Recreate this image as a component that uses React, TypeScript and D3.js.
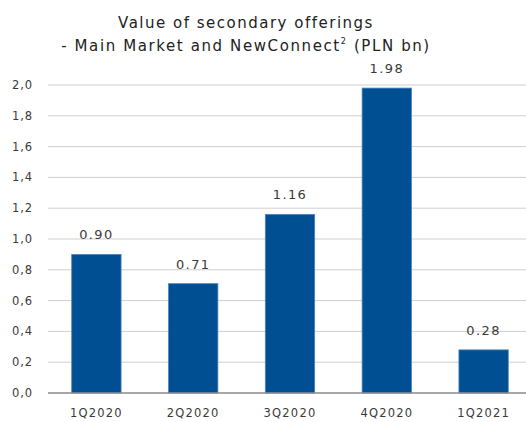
import React from "react";
import * as d3 from "d3";

const categories = ["1Q2020", "2Q2020", "3Q2020", "4Q2020", "1Q2021"];
const values = [0.9, 0.71, 1.16, 1.98, 0.28];
const valueLabels = ["0.90", "0.71", "1.16", "1.98", "0.28"];
const yTicks = [0, 0.2, 0.4, 0.6, 0.8, 1.0, 1.2, 1.4, 1.6, 1.8, 2.0];
const titleLines = ["Value of secondary offerings", "- Main Market and NewConnect"];

const W = 526;
const H = 422;
const left = 48;
const right = 532;
const top = 85;
const bottom = 393;
const font = "'DejaVu Sans', Verdana, sans-serif";

export default function App() {
  const x = d3.scaleBand<string>().domain(categories).range([left, right]).paddingInner(0.49).paddingOuter(0.245);
  const y = d3.scaleLinear().domain([0, 2]).range([bottom, top]);
  return (
    <svg width={W} height={H} style={{ position: "absolute", left: 0, top: 0, background: "#fff" }}>
      <rect x={0} y={0} width={W} height={H} fill="#fff" />
      <text x={246} y={28} textAnchor="middle" fontFamily={font} fontSize={15} letterSpacing={1.5} fill="#222">
        {titleLines[0]}
      </text>
      <text x={246} y={51} textAnchor="middle" fontFamily={font} fontSize={15} letterSpacing={1.6} fill="#222">
        {titleLines[1]}
        <tspan fontSize={8} dy={-7}>2</tspan>
        <tspan dy={7}> (PLN bn)</tspan>
      </text>
      {yTicks.map((t) => (
        <g key={t}>
          {t > 0 && (
            <line x1={left} x2={W} y1={y(t)} y2={y(t)} stroke="#cfcfcf" strokeWidth={1} />
          )}
          <text x={33} y={y(t) + 4} textAnchor="end" fontFamily={font} fontSize={11.5} letterSpacing={0.9} fill="#3a3a3a">
            {t.toFixed(1).replace(".", ",")}
          </text>
        </g>
      ))}
      {categories.map((c, i) => (
        <g key={c}>
          <rect
            x={x(c)!}
            y={y(values[i])}
            width={x.bandwidth()}
            height={bottom - y(values[i])}
            fill="#004f93"
            stroke="#4d86bd"
            strokeWidth={0.8}
          />
          <text
            x={x(c)! + x.bandwidth() / 2}
            y={y(values[i]) - 15}
            textAnchor="middle"
            fontFamily={font}
            fontSize={13}
            letterSpacing={1.4}
            fill="#3a3a3a"
          >
            {valueLabels[i]}
          </text>
          <text
            x={x(c)! + x.bandwidth() / 2}
            y={bottom + 24}
            textAnchor="middle"
            fontFamily={font}
            fontSize={11.5}
            letterSpacing={1.2}
            fill="#3a3a3a"
          >
            {c}
          </text>
        </g>
      ))}
      <line x1={left} x2={W} y1={bottom} y2={bottom} stroke="#8a8a8a" strokeWidth={1.3} />
    </svg>
  );
}
